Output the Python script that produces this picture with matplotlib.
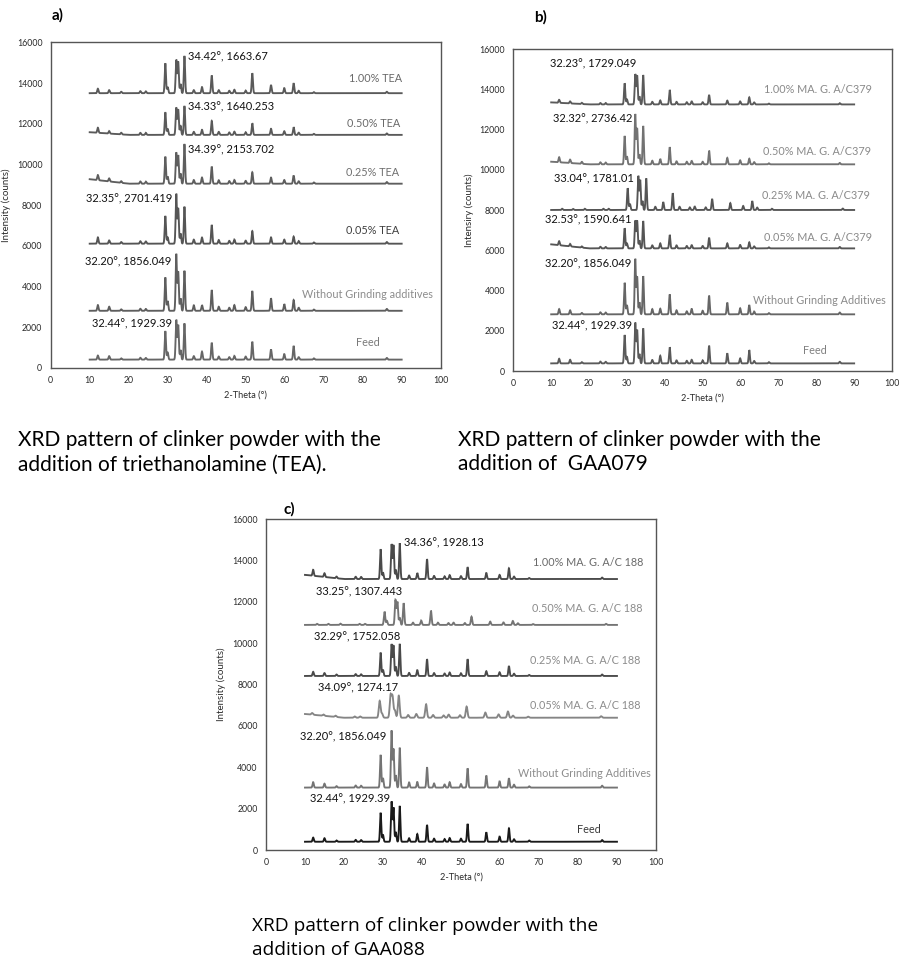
import numpy as np
import matplotlib.pyplot as plt

plt.rcParams['font.family'] = ['Lato', 'DejaVu Sans']

# Peak positions (2-theta, degrees) shared by all patterns
peak_pos = [12.1, 15.0, 18.1, 23.0, 24.4, 29.4, 30.0, 32.2, 32.7, 33.3, 34.3, 36.7, 38.8,
            41.3, 43.1, 45.8, 47.1, 50.0, 51.7, 56.5, 59.9, 62.3, 63.6, 67.5, 86.2]

# ---- a) TEA ----
a_names = ["Feed", "Without Grinding additives", "0.05% TEA", "0.25% TEA", "0.50% TEA", "1.00% TEA"]
a_base_start = [400, 2800, 6100, 9270, 11580, 13500]
a_base = [400, 2800, 6100, 9050, 11450, 13500]
a_shift = [0, 0, 0, 0, 0, 0]
a_heights = [
    [200, 170, 60, 90, 80, 1400, 350, 1950, 1700, 470, 1780, 170, 390, 830, 150, 120, 180, 150, 880, 500, 270, 670, 120, 60, 80],
    [280, 200, 70, 100, 90, 1640, 480, 2790, 1920, 610, 1970, 270, 280, 1020, 200, 150, 280, 180, 970, 610, 330, 530, 150, 60, 90],
    [310, 160, 80, 120, 110, 1360, 310, 2445, 1740, 500, 1820, 200, 300, 920, 180, 140, 200, 150, 620, 310, 200, 350, 130, 60, 80],
    [250, 150, 80, 110, 100, 1330, 350, 1530, 1400, 500, 1950, 180, 300, 840, 170, 130, 180, 140, 560, 300, 180, 400, 120, 60, 80],
    [250, 120, 80, 100, 100, 1110, 300, 1340, 1250, 450, 1420, 150, 250, 690, 150, 120, 160, 130, 570, 300, 180, 380, 110, 50, 70],
    [220, 150, 70, 100, 90, 1470, 300, 1640, 1550, 450, 1830, 150, 300, 870, 150, 120, 170, 130, 980, 400, 250, 490, 120, 50, 70],
]
a_line_colors = ["#666666", "#5e5e5e", "#555555", "#5e5e5e", "#5a5a5a", "#5a5a5a"]
a_label_colors = ["#7a7a7a", "#8c8c8c", "#404040", "#707070", "#6a6a6a", "#6a6a6a"]
a_label_pos = [(84.3, 1230), (98.1, 3620), (89.3, 6770), (89.3, 9610), (89.7, 12000), (90.0, 14200)]
a_peak_text = ["32.44°, 1929.39", "32.20°, 1856.049", "32.35°, 2701.419",
               "34.39°, 2153.702", "34.33°, 1640.253", "34.42°, 1663.67"]
a_peak_text_pos = [(31.2, 2130, "right"), (31.0, 5180, "right"), (31.2, 8300, "right"),
                   (35.1, 10710, "left"), (35.1, 12840, "left"), (35.3, 15300, "left")]

# ---- b) GAA079 ----
b_names = ["Feed", "Without Grinding Additives", "0.05% MA. G. A/C379", "0.25% MA. G. A/C379",
           "0.50% MA. G. A/C379", "1.00% MA. G. A/C379"]
b_base_start = [380, 2820, 6300, 8010, 10410, 13360]
b_base = [380, 2820, 6100, 8010, 10280, 13260]
b_shift = [0, 0, 0, 0.8, 0, 0]
b_heights = [
    [230, 180, 60, 90, 80, 1410, 330, 2020, 1660, 470, 1740, 170, 380, 800, 150, 130, 180, 150, 880, 500, 250, 660, 120, 60, 80],
    [260, 200, 70, 100, 90, 1570, 460, 2750, 1870, 600, 1900, 260, 280, 990, 200, 150, 270, 180, 930, 580, 300, 460, 140, 60, 90],
    [200, 120, 60, 80, 70, 1000, 250, 1380, 1380, 400, 1360, 150, 250, 670, 150, 120, 160, 120, 530, 250, 170, 300, 100, 50, 70],
    [60, 50, 60, 60, 60, 1080, 300, 1690, 1490, 450, 1570, 160, 390, 830, 160, 130, 170, 130, 550, 340, 200, 440, 120, 60, 70],
    [250, 170, 100, 100, 90, 1410, 400, 2490, 1790, 500, 1910, 180, 270, 850, 150, 130, 170, 130, 680, 320, 200, 280, 110, 50, 70],
    [150, 100, 60, 70, 70, 1050, 250, 1500, 1440, 400, 1460, 130, 200, 720, 130, 110, 150, 110, 470, 190, 150, 350, 100, 40, 60],
]
b_line_colors = ["#5a5a5a", "#666666", "#555555", "#555555", "#727272", "#5a5a5a"]
b_label_colors = ["#808080", "#8a8a8a", "#8a8a8a", "#8a8a8a", "#8a8a8a", "#8a8a8a"]
b_label_pos = [(82.7, 1010), (98.4, 3530), (94.6, 6650), (94.2, 8750), (94.5, 10940), (94.6, 13980)]
b_peak_text = ["32.44°, 1929.39", "32.20°, 1856.049", "32.53°, 1590.641",
               "33.04°, 1781.01", "32.32°, 2736.42", "32.23°, 1729.049"]
b_peak_text_pos = [(31.25, 2255, "right"), (31.25, 5320, "right"), (31.25, 7510, "right"),
                   (31.95, 9530, "right"), (31.4, 12530, "right"), (32.6, 15250, "right")]

# ---- c) GAA088 ----
c_names = ["Feed", "Without Grinding Additives", "0.05% MA. G. A/C 188", "0.25% MA. G. A/C 188",
           "0.50% MA. G. A/C 188", "1.00% MA. G. A/C 188"]
c_base_start = [400, 3020, 6580, 8420, 10890, 13310]
c_base = [400, 3020, 6400, 8420, 10890, 13110]
c_shift = [0, 0, -0.25, 0, 1.0, 0]
c_heights = [
    [200, 170, 60, 90, 80, 1400, 330, 1940, 1650, 470, 1730, 170, 370, 810, 150, 130, 180, 150, 860, 455, 250, 650, 120, 60, 80],
    [260, 190, 70, 100, 90, 1580, 460, 2750, 1870, 600, 1930, 250, 270, 980, 200, 150, 260, 170, 930, 580, 300, 450, 140, 60, 90],
    [80, 60, 60, 60, 60, 810, 200, 1070, 1000, 350, 1070, 130, 180, 650, 130, 110, 150, 120, 540, 250, 160, 300, 100, 50, 70],
    [200, 140, 70, 90, 80, 1130, 300, 1530, 1480, 450, 1550, 150, 280, 810, 140, 120, 170, 130, 810, 230, 180, 480, 110, 50, 70],
    [50, 50, 60, 50, 50, 640, 200, 1210, 1110, 350, 1050, 110, 210, 690, 110, 90, 110, 90, 400, 160, 120, 190, 80, 40, 50],
    [290, 180, 80, 110, 100, 1440, 320, 1680, 1640, 450, 1730, 170, 290, 960, 150, 130, 190, 140, 570, 290, 200, 520, 120, 50, 70],
]
c_line_colors = ["#1a1a1a", "#747474", "#858585", "#4a4a4a", "#747474", "#4a4a4a"]
c_label_colors = ["#3a3a3a", "#8c8c8c", "#8c8c8c", "#8c8c8c", "#8c8c8c", "#6a6a6a"]
c_label_pos = [(85.9, 970), (98.6, 3710), (96.1, 6980), (95.9, 9150), (96.6, 11660), (96.8, 13900)]
c_peak_text = ["32.44°, 1929.39", "32.20°, 1856.049", "34.09°, 1274.17",
               "32.29°, 1752.058", "33.25°, 1307.443", "34.36°, 1928.13"]
c_peak_text_pos = [(31.8, 2450, "right"), (30.9, 5480, "right"), (33.9, 7820, "right"),
                   (34.4, 10290, "right"), (35.0, 12500, "right"), (35.4, 14840, "left")]
c_width = [0.16, 0.16, 0.22, 0.16, 0.17, 0.16]

captions = ["XRD pattern of clinker powder with the\naddition of triethanolamine (TEA).",
            "XRD pattern of clinker powder with the\naddition of  GAA079",
            "XRD pattern of clinker powder with the\naddition of GAA088"]

two_theta = np.arange(10, 90.01, 0.02)


def pattern(base_start, base, shift, heights, width):
    y = np.interp(two_theta, [10, 20, 90], [base_start, base, base])
    for p, h in zip(peak_pos, heights):
        y = y + h * np.exp(-0.5 * ((two_theta - p - shift) / width) ** 2)
    return y


def draw_panel(ax, ylabel, names, starts, bases, shifts, heights, widths,
               line_colors, label_colors, label_pos, peak_text, peak_text_pos):
    for i in range(len(names)):
        y = pattern(starts[i], bases[i], shifts[i], heights[i], widths[i])
        ax.plot(two_theta, y, color=line_colors[i], lw=1.35, solid_joinstyle="miter")
        lx, ly = label_pos[i]
        ax.text(lx, ly, names[i], ha="right", va="center", fontsize=7.8, color=label_colors[i])
        tx, ty, ha = peak_text_pos[i]
        ax.text(tx, ty, peak_text[i], ha=ha, va="center", fontsize=8, color="#111111")
    ax.set_xlim(0, 100)
    ax.set_ylim(0, 16000)
    ax.set_xticks(range(0, 101, 10))
    ax.set_yticks(range(0, 16001, 2000))
    ax.tick_params(length=0, labelsize=6.3, colors="#2a2a2a", pad=6)
    for s in ax.spines.values():
        s.set_color("#555555")
        s.set_linewidth(1.0)
    ax.set_xlabel("2-Theta (°)", fontsize=6.6, color="#2a2a2a", labelpad=4)
    ax.set_ylabel(ylabel, fontsize=7, color="#2a2a2a", labelpad=4)


fig = plt.figure(figsize=(9.15, 9.69), dpi=100)

ax_a = fig.add_axes([0.0554, 0.6205, 0.4262, 0.3358])
draw_panel(ax_a, "Intensity (counts)", a_names, a_base_start, a_base, a_shift, a_heights,
           [0.16] * 6, a_line_colors, a_label_colors, a_label_pos, a_peak_text, a_peak_text_pos)

ax_b = fig.add_axes([0.561, 0.6171, 0.4139, 0.332])
draw_panel(ax_b, "Intensiry (counts)", b_names, b_base_start, b_base, b_shift, b_heights,
           [0.16] * 6, b_line_colors, b_label_colors, b_label_pos, b_peak_text, b_peak_text_pos)

ax_c = fig.add_axes([0.2907, 0.1228, 0.4262, 0.3413])
draw_panel(ax_c, "Intensity (counts)", c_names, c_base_start, c_base, c_shift, c_heights,
           c_width, c_line_colors, c_label_colors, c_label_pos, c_peak_text, c_peak_text_pos)

# panel letters
fig.text(52 / 915, 1 - 15 / 969, "a)", fontsize=11, fontweight="bold", ha="left", va="center")
fig.text(534 / 915, 1 - 17 / 969, "b)", fontsize=11, fontweight="bold", ha="left", va="center")
fig.text(284 / 915, 1 - 509 / 969, "c)", fontsize=11, fontweight="bold", ha="left", va="center")

# captions
fig.text(18 / 915, 1 - 452 / 969, captions[0], fontsize=15, ha="left", va="center", linespacing=1.3)
fig.text(458 / 915, 1 - 452 / 969, captions[1], fontsize=15, ha="left", va="center", linespacing=1.3)
fig.text(252 / 915, 1 - 938 / 969, captions[2], fontsize=13.8, ha="left", va="center",
         linespacing=1.38, family=["Open Sans", "DejaVu Sans"])

fig.savefig("out.png", dpi=100, facecolor="white")
